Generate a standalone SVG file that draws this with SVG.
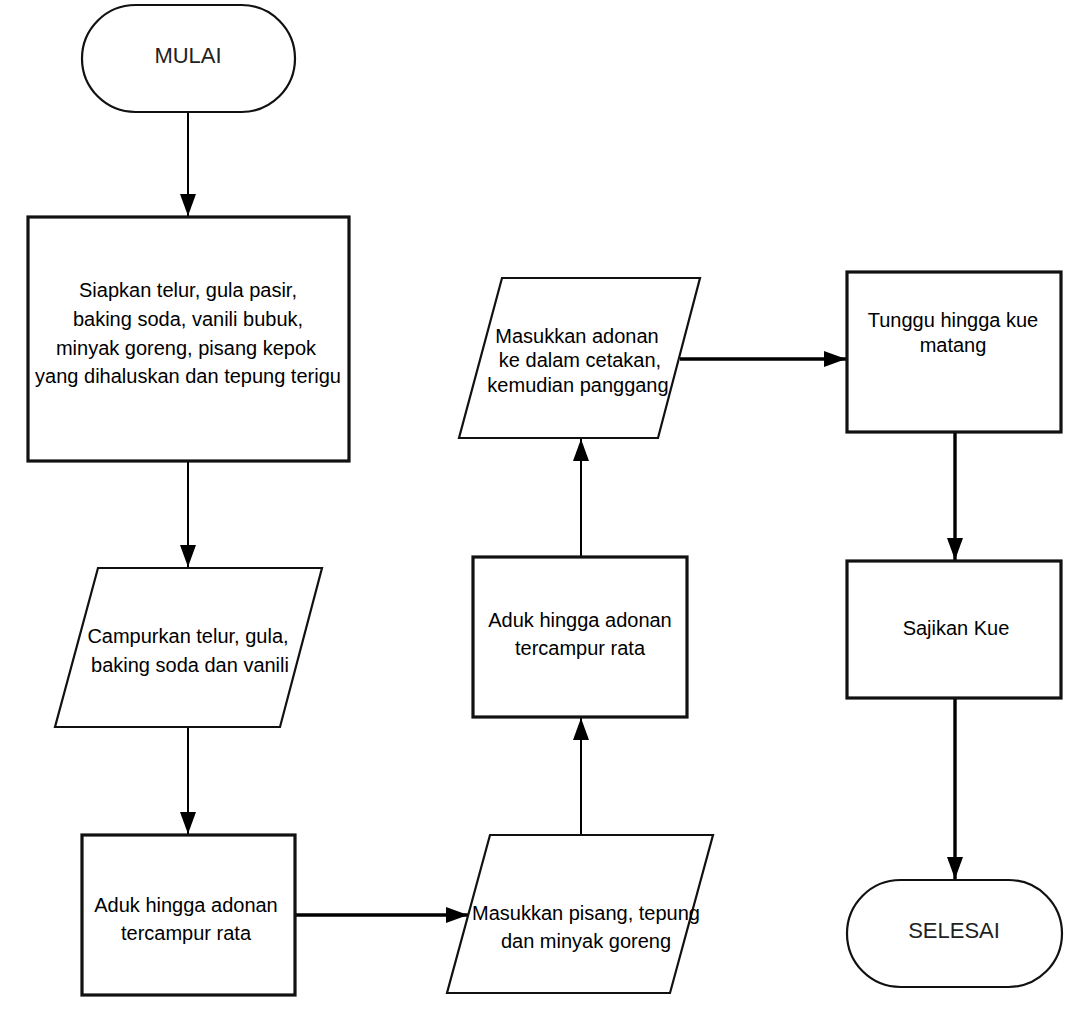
<svg xmlns="http://www.w3.org/2000/svg" width="1091" height="1028" viewBox="0 0 1091 1028">
<style>
.bg{fill:#ffffff}
.box{fill:#ffffff;stroke:#111;stroke-width:3.2}
.para{fill:#ffffff;stroke:#111;stroke-width:2.2}
.term{fill:#ffffff;stroke:#111;stroke-width:2.2}
.t{font-family:"Liberation Sans",Arial,sans-serif;font-size:20px;fill:#000;text-anchor:middle}
.tt{font-family:"Liberation Sans",Arial,sans-serif;font-size:22px;fill:#222;text-anchor:middle}
.c{fill:none;stroke:#000;stroke-width:2}
.ck{fill:none;stroke:#000;stroke-width:3.4}
</style>
<defs>
<marker id="ah" markerUnits="userSpaceOnUse" markerWidth="22" markerHeight="16" refX="22" refY="8" orient="auto">
<path d="M0,0 L22,8 L0,16 Z" fill="#000"/>
</marker>
</defs>
<rect class="bg" x="0" y="0" width="1091" height="1028"/>
<g id="connectors">
<line class="c" x1="188" y1="112" x2="188" y2="216" marker-end="url(#ah)"/>
<line class="c" x1="188" y1="462" x2="188" y2="567" marker-end="url(#ah)"/>
<line class="c" x1="188" y1="728" x2="188" y2="834" marker-end="url(#ah)"/>
<line class="ck" x1="296" y1="915" x2="468" y2="915" marker-end="url(#ah)"/>
<line class="c" x1="581" y1="834" x2="581" y2="718" marker-end="url(#ah)"/>
<line class="c" x1="581" y1="556" x2="581" y2="439" marker-end="url(#ah)"/>
<line class="ck" x1="680" y1="359" x2="846" y2="359" marker-end="url(#ah)"/>
<line class="ck" x1="955" y1="433" x2="955" y2="560" marker-end="url(#ah)"/>
<line class="ck" x1="955" y1="699" x2="955" y2="879" marker-end="url(#ah)"/>
</g>
<g id="mulai">
<rect class="term" x="82" y="5" width="213" height="107" rx="53.5" ry="53.5"/>
<text class="tt" x="188" y="63">MULAI</text>
</g>
<g id="siapkan">
<rect class="box" x="28" y="217" width="321" height="244"/>
<text class="t" x="188" y="297">Siapkan telur, gula pasir,</text>
<text class="t" x="188" y="326">baking soda, vanili bubuk,</text>
<text class="t" x="186" y="355">minyak goreng, pisang kepok</text>
<text class="t" x="188" y="383">yang dihaluskan dan tepung terigu</text>
</g>
<g id="campurkan">
<polygon class="para" points="98,568 322,568 280,727 55,727"/>
<text class="t" x="188" y="643">Campurkan telur, gula,</text>
<text class="t" x="190" y="672">baking soda dan vanili</text>
</g>
<g id="aduk1">
<rect class="box" x="82" y="835" width="213" height="160"/>
<text class="t" x="186" y="912">Aduk hingga adonan</text>
<text class="t" x="186" y="940">tercampur rata</text>
</g>
<g id="masukkan-pisang">
<polygon class="para" points="490,835 713,835 670,993 447,993"/>
<text class="t" x="586" y="920">Masukkan pisang, tepung</text>
<text class="t" x="586" y="948">dan minyak goreng</text>
</g>
<g id="aduk2">
<rect class="box" x="473" y="557" width="214" height="160"/>
<text class="t" x="580" y="627">Aduk hingga adonan</text>
<text class="t" x="580" y="655">tercampur rata</text>
</g>
<g id="masukkan-adonan">
<polygon class="para" points="502,278 700,278 658,438 459,438"/>
<text class="t" x="577" y="343">Masukkan adonan</text>
<text class="t" x="580" y="367">ke dalam cetakan,</text>
<text class="t" x="578" y="392">kemudian panggang</text>
</g>
<g id="tunggu">
<rect class="box" x="847" y="272" width="214" height="160"/>
<text class="t" x="953" y="327">Tunggu hingga kue</text>
<text class="t" x="953" y="352">matang</text>
</g>
<g id="sajikan">
<rect class="box" x="847" y="561" width="214" height="137"/>
<text class="t" x="956" y="635">Sajikan Kue</text>
</g>
<g id="selesai">
<rect class="term" x="847" y="880" width="215" height="107" rx="53.5" ry="53.5"/>
<text class="tt" x="954" y="938">SELESAI</text>
</g>
</svg>
